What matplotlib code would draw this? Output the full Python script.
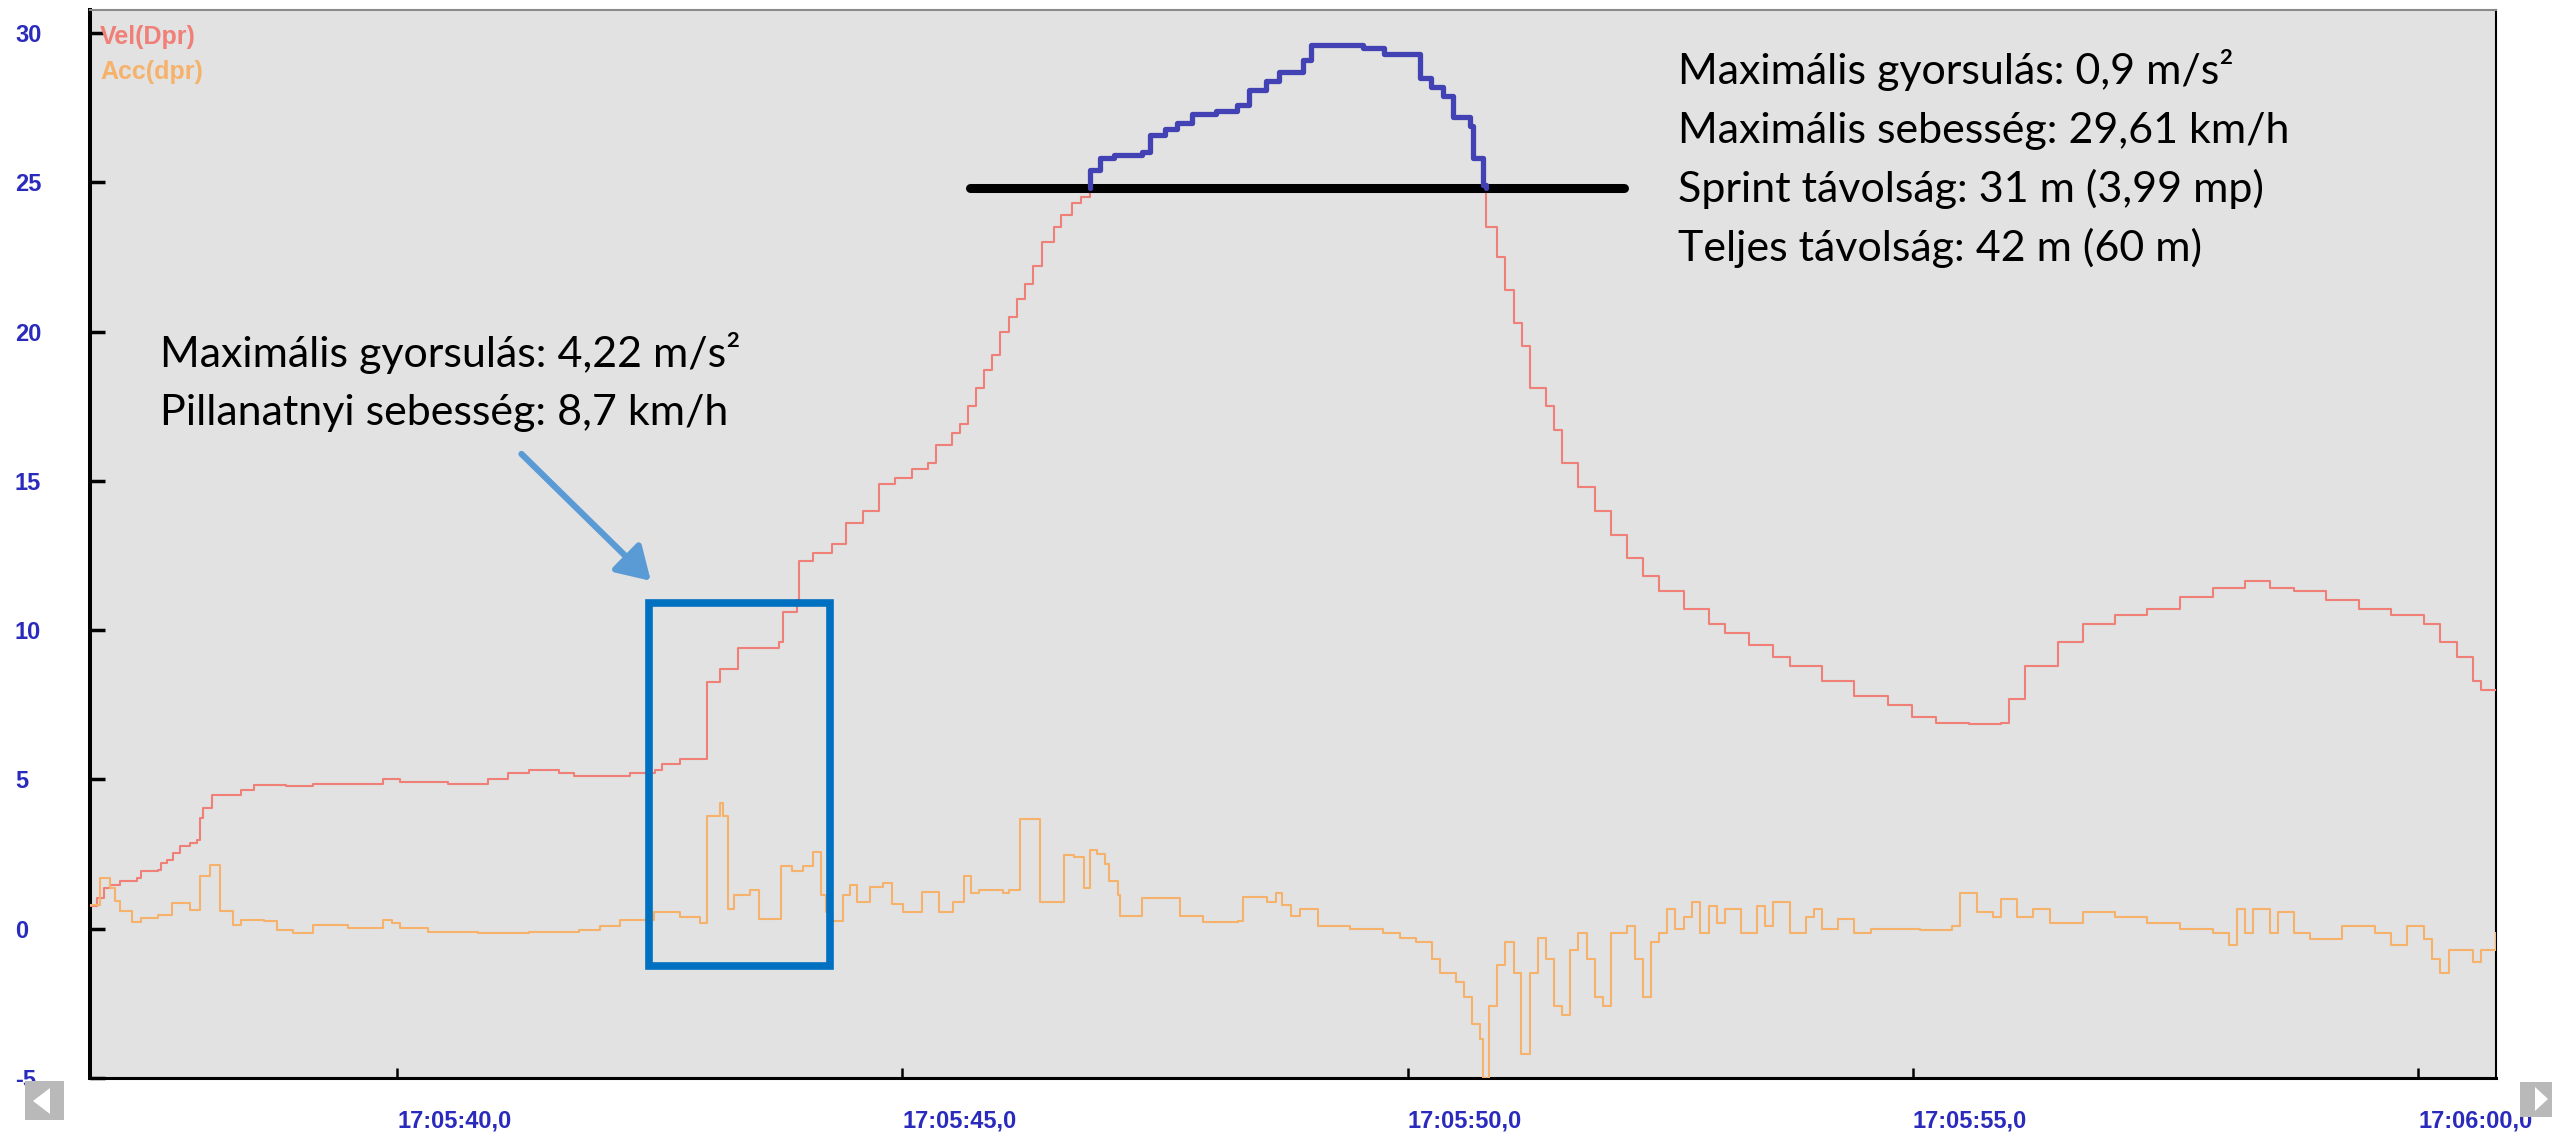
import numpy as np
import matplotlib
matplotlib.use("Agg")
import matplotlib.pyplot as plt
from matplotlib import font_manager
from matplotlib.patches import Rectangle, Polygon
from matplotlib.ticker import FixedLocator

W, H = 2552, 1140
DPI = 100

# Time axis: seconds after 17:05:00
vel_t = [36.96, 37.03, 37.10, 37.16, 37.26, 37.43, 37.46, 37.63, 37.66, 37.72,
         37.78, 37.85, 37.95, 38.02, 38.05, 38.08, 38.17, 38.45, 38.58, 38.90,
         39.17, 39.86, 40.03, 40.50, 40.90, 41.10, 41.30, 41.60, 41.75, 42.30,
         42.55, 42.62, 42.80, 43.07, 43.19, 43.37, 43.78, 43.82, 43.96, 43.98,
         44.11, 44.30, 44.44, 44.61, 44.77, 44.93, 45.09, 45.25, 45.33, 45.49,
         45.57, 45.65, 45.73, 45.81, 45.89, 45.97, 46.05, 46.13, 46.21, 46.29,
         46.38, 46.50, 46.57, 46.68, 46.77, 46.86, 46.96, 47.09, 47.37, 47.45,
         47.60, 47.72, 47.87, 48.10, 48.31, 48.43, 48.60, 48.73, 48.96, 49.04,
         49.56, 49.77, 50.12, 50.23, 50.35, 50.45, 50.62, 50.65, 50.75, 50.77,
         50.88, 50.96, 51.05, 51.13, 51.21, 51.37, 51.45, 51.53, 51.69, 51.85,
         52.01, 52.17, 52.33, 52.49, 52.73, 52.98, 53.14, 53.38, 53.62, 53.78,
         54.10, 54.42, 54.75, 54.99, 55.23, 55.55, 55.87, 55.95, 56.11, 56.44,
         56.68, 57.00, 57.32, 57.64, 57.97, 58.29, 58.53, 58.77, 59.09, 59.41,
         59.73, 60.06, 60.22, 60.38, 60.54, 60.62, 60.77]
vel_v = [0.77, 1.04, 1.37, 1.47, 1.60, 1.70, 1.94, 1.98, 2.20, 2.30,
         2.54, 2.78, 2.88, 2.98, 3.72, 4.05, 4.49, 4.65, 4.82, 4.79,
         4.85, 5.00, 4.90, 4.85, 5.00, 5.20, 5.30, 5.20, 5.10, 5.20,
         5.30, 5.50, 5.70, 8.27, 8.70, 9.40, 9.60, 10.60, 11.00, 12.30,
         12.60, 12.90, 13.60, 14.00, 14.90, 15.10, 15.40, 15.60, 16.20, 16.60,
         16.90, 17.50, 18.10, 18.70, 19.20, 20.00, 20.50, 21.10, 21.60, 22.20,
         23.00, 23.50, 23.90, 24.30, 24.50, 25.40, 25.80, 25.90, 26.00, 26.60,
         26.80, 27.00, 27.30, 27.40, 27.60, 28.10, 28.40, 28.70, 29.10, 29.61,
         29.50, 29.30, 28.50, 28.20, 27.90, 27.20, 26.90, 25.80, 24.90, 23.50,
         22.50, 21.40, 20.30, 19.50, 18.10, 17.50, 16.70, 15.60, 14.80, 14.00,
         13.20, 12.40, 11.80, 11.30, 10.70, 10.20, 9.90, 9.50, 9.10, 8.80,
         8.30, 7.80, 7.50, 7.10, 6.90, 6.85, 6.90, 7.70, 8.80, 9.60,
         10.20, 10.50, 10.70, 11.10, 11.40, 11.65, 11.40, 11.30, 11.00, 10.70,
         10.50, 10.20, 9.60, 9.10, 8.30, 8.00, 8.00]

acc_t = [36.96, 37.06, 37.16, 37.21, 37.26, 37.38, 37.46, 37.63, 37.77, 37.95,
         38.05, 38.15, 38.25, 38.38, 38.45, 38.68, 38.81, 38.97, 39.17, 39.51,
         39.86, 39.95, 40.03, 40.30, 40.80, 41.30, 41.80, 42.01, 42.20, 42.54,
         42.80, 43.00, 43.07, 43.19, 43.22, 43.27, 43.33, 43.49, 43.58, 43.80,
         43.91, 44.02, 44.11, 44.19, 44.24, 44.30, 44.41, 44.48, 44.55, 44.68,
         44.81, 44.90, 45.01, 45.19, 45.36, 45.50, 45.61, 45.68, 45.76, 46.00,
         46.05, 46.16, 46.36, 46.60, 46.70, 46.80, 46.86, 46.93, 47.00, 47.04,
         47.13, 47.15, 47.37, 47.75, 47.97, 48.32, 48.37, 48.54, 48.61, 48.70,
         48.76, 48.85, 48.93, 49.11, 49.43, 49.76, 49.92, 50.08, 50.24, 50.32,
         50.48, 50.56, 50.64, 50.72, 50.75, 50.80, 50.88, 50.96, 51.05, 51.12,
         51.21, 51.29, 51.37, 51.45, 51.53, 51.61, 51.69, 51.77, 51.85, 51.93,
         52.01, 52.17, 52.25, 52.33, 52.41, 52.49, 52.57, 52.65, 52.73, 52.81,
         52.89, 52.98, 53.06, 53.14, 53.30, 53.46, 53.54, 53.62, 53.78, 53.94,
         54.02, 54.10, 54.26, 54.42, 54.58, 55.07, 55.39, 55.47, 55.63, 55.79,
         55.87, 56.03, 56.19, 56.36, 56.68, 57.00, 57.32, 57.64, 57.97, 58.13,
         58.21, 58.29, 58.37, 58.53, 58.61, 58.77, 58.93, 59.25, 59.57, 59.73,
         59.89, 60.06, 60.14, 60.22, 60.30, 60.54, 60.62, 60.77]
acc_v = [0.80, 1.70, 1.37, 0.93, 0.60, 0.23, 0.37, 0.45, 0.87, 0.64,
         1.77, 2.14, 0.60, 0.13, 0.30, 0.25, -0.03, -0.13, 0.13, 0.03,
         0.30, 0.20, 0.03, -0.10, -0.15, -0.10, -0.05, 0.10, 0.30, 0.57,
         0.40, 0.20, 3.78, 4.22, 3.78, 0.67, 1.14, 1.30, 0.33, 2.10,
         1.94, 2.10, 2.58, 1.14, 0.57, 0.27, 1.14, 1.47, 0.90, 1.40,
         1.54, 0.84, 0.57, 1.24, 0.57, 0.90, 1.77, 1.20, 1.30, 1.20,
         1.30, 3.67, 0.90, 2.46, 2.40, 1.37, 2.63, 2.51, 2.16, 1.59,
         1.13, 0.44, 1.02, 0.44, 0.21, 0.27, 1.07, 1.07, 0.90, 1.19,
         0.79, 0.44, 0.67, 0.10, 0.00, -0.16, -0.30, -0.44, -1.00, -1.50,
         -1.80, -2.30, -3.20, -3.70, -5.00, -2.60, -1.20, -0.44, -1.50, -4.20,
         -1.50, -0.30, -1.00, -2.60, -2.90, -0.70, -0.16, -1.00, -2.30, -2.60,
         -0.16, 0.10, -1.00, -2.30, -0.44, -0.16, 0.65, 0.00, 0.40, 0.90,
         -0.16, 0.76, 0.20, 0.65, -0.16, 0.76, 0.10, 0.90, -0.16, 0.40,
         0.65, 0.00, 0.33, -0.16, 0.00, -0.05, 0.10, 1.20, 0.55, 0.40,
         1.00, 0.40, 0.65, 0.20, 0.55, 0.40, 0.20, 0.00, -0.16, -0.54,
         0.65, -0.16, 0.65, -0.16, 0.55, -0.16, -0.33, 0.10, -0.16, -0.54,
         0.10, -0.33, -1.00, -1.50, -0.70, -1.10, -0.70, -0.16]

x_ticks = [40, 45, 50, 55, 60]
x_tick_labels = ["17:05:40,0", "17:05:45,0", "17:05:50,0", "17:05:55,0", "17:06:00,0"]
y_ticks = [-5, 0, 5, 10, 15, 20, 25, 30]
series_names = ["Vel(Dpr)", "Acc(dpr)"]

sprint_threshold = 24.8
sprint_span = [45.67, 52.14]
box_t = [42.49, 44.28]
box_v = [-1.24, 10.91]
arrow_from = (41.23, 15.9)
arrow_to = (42.51, 11.65)
left_note = ["Maximális gyorsulás: 4,22 m/s²",
             "Pillanatnyi sebesség: 8,7 km/h"]
right_note = ["Maximális gyorsulás: 0,9 m/s²",
              "Maximális sebesség: 29,61 km/h",
              "Sprint távolság: 31 m (3,99 mp)",
              "Teljes távolság: 42 m (60 m)"]

VEL_COLOR = "#f07f78"
ACC_COLOR = "#f6b26b"
TICK_BLUE = "#2a2abd"

# narrow bold face for tick labels when it is installed
_installed = {f.name for f in font_manager.fontManager.ttflist}
if "Liberation Sans Narrow" in _installed:
    TICK_FAMILY, TICK_SIZE = "Liberation Sans Narrow", 19
else:
    TICK_FAMILY, TICK_SIZE = "Liberation Sans", 17


def fig_xy(x, y):
    """Pixel position (origin top-left) to figure fraction."""
    return x / W, 1 - y / H


fig = plt.figure(figsize=(W / DPI, H / DPI), dpi=DPI, facecolor="white")
ax = fig.add_axes([90 / W, 62 / H, (2496 - 90) / W, (1078 - 10) / H])
ax.set_facecolor("#e2e2e2")
ax.set_xlim(36.96, 60.77)
ax.set_ylim(-5, 30.77)

ax.step(vel_t, vel_v, where="post", color=VEL_COLOR, lw=1.5, zorder=3)
ax.step(acc_t, acc_v, where="post", color=ACC_COLOR, lw=1.5, zorder=3)

# sprint part of the velocity trace (above the threshold)
vt = np.asarray(vel_t)
vv = np.asarray(vel_v)
idx = np.where(vv >= sprint_threshold)[0]
i0, i1 = idx[0], idx[-1]
bt = [vt[i0]] + list(vt[i0:i1 + 2]) + [vt[i1 + 1]]
bv = [sprint_threshold] + list(vv[i0:i1 + 1]) + [vv[i1], sprint_threshold]
ax.plot(bt, bv, drawstyle="steps-post", color="#4242b4", lw=3.8,
        solid_joinstyle="round", solid_capstyle="round", zorder=5)

ax.plot(sprint_span, [sprint_threshold, sprint_threshold], color="black",
        lw=6.5, solid_capstyle="round", zorder=4)

ax.add_patch(Rectangle((box_t[0], box_v[0]), box_t[1] - box_t[0],
                       box_v[1] - box_v[0], fill=False, ec="#0070c0",
                       lw=5.5, zorder=6))
ax.annotate("", xy=arrow_to, xytext=arrow_from,
            arrowprops=dict(arrowstyle="-|>,head_length=0.9,head_width=0.55",
                            color="#5b9bd5", lw=4.5, shrinkA=0, shrinkB=0,
                            mutation_scale=22), zorder=6)

# axis styling
ax.xaxis.set_major_locator(FixedLocator(x_ticks))
ax.set_xticklabels(x_tick_labels)
ax.yaxis.set_major_locator(FixedLocator(y_ticks))
ax.set_yticklabels([str(v) for v in y_ticks])
ax.tick_params(axis="x", direction="in", length=7.2, width=1.8,
               color="black", pad=23, labelsize=TICK_SIZE, labelcolor=TICK_BLUE)
ax.tick_params(axis="y", direction="in", length=10.8, width=2.5,
               color="black", pad=54, labelsize=TICK_SIZE, labelcolor=TICK_BLUE)
for lab in ax.get_xticklabels() + ax.get_yticklabels():
    lab.set_ha("left")
    lab.set_fontweight("bold")
    lab.set_family(TICK_FAMILY)

ax.spines["left"].set_linewidth(2.9)
ax.spines["bottom"].set_linewidth(2.2)
ax.spines["right"].set_linewidth(1.5)
ax.spines["top"].set_linewidth(1.5)
ax.spines["top"].set_color("#8a8a8a")
for s in ("left", "bottom", "right"):
    ax.spines[s].set_color("black")

# series names in the plot corner
ax.text(10 / 2406, 1 - 27 / 1068, series_names[0], transform=ax.transAxes,
        color=VEL_COLOR, fontsize=18, fontweight="bold",
        family="Liberation Sans", ha="left", va="center", zorder=7)
ax.text(10 / 2406, 1 - 62 / 1068, series_names[1], transform=ax.transAxes,
        color=ACC_COLOR, fontsize=18, fontweight="bold",
        family="Liberation Sans", ha="left", va="center", zorder=7)

# annotation notes
for i, line in enumerate(left_note):
    fig.text(*fig_xy(160, 367 + 58 * i), line, fontsize=31, family="Lato",
             color="black", ha="left", va="baseline", zorder=8)
for i, line in enumerate(right_note):
    fig.text(*fig_xy(1678, 84 + 59 * i), line, fontsize=31, family="Lato",
             color="black", ha="left", va="baseline", zorder=8)

# scroll buttons under the plot
fig.patches.append(Rectangle(fig_xy(25, 1120), 39 / W, 39 / H,
                             transform=fig.transFigure, fc="#b9b9b9",
                             ec="none", zorder=9))
fig.patches.append(Polygon([fig_xy(33, 1101), fig_xy(50, 1088), fig_xy(50, 1114)],
                           closed=True, transform=fig.transFigure,
                           fc="white", ec="none", zorder=10))
fig.patches.append(Rectangle(fig_xy(2520, 1117), 40 / W, 35 / H,
                             transform=fig.transFigure, fc="#b9b9b9",
                             ec="none", zorder=9))
fig.patches.append(Polygon([fig_xy(2548, 1099), fig_xy(2535, 1087), fig_xy(2535, 1111)],
                           closed=True, transform=fig.transFigure,
                           fc="white", ec="none", zorder=10))

fig.savefig("out.png", dpi=DPI, facecolor="white")
